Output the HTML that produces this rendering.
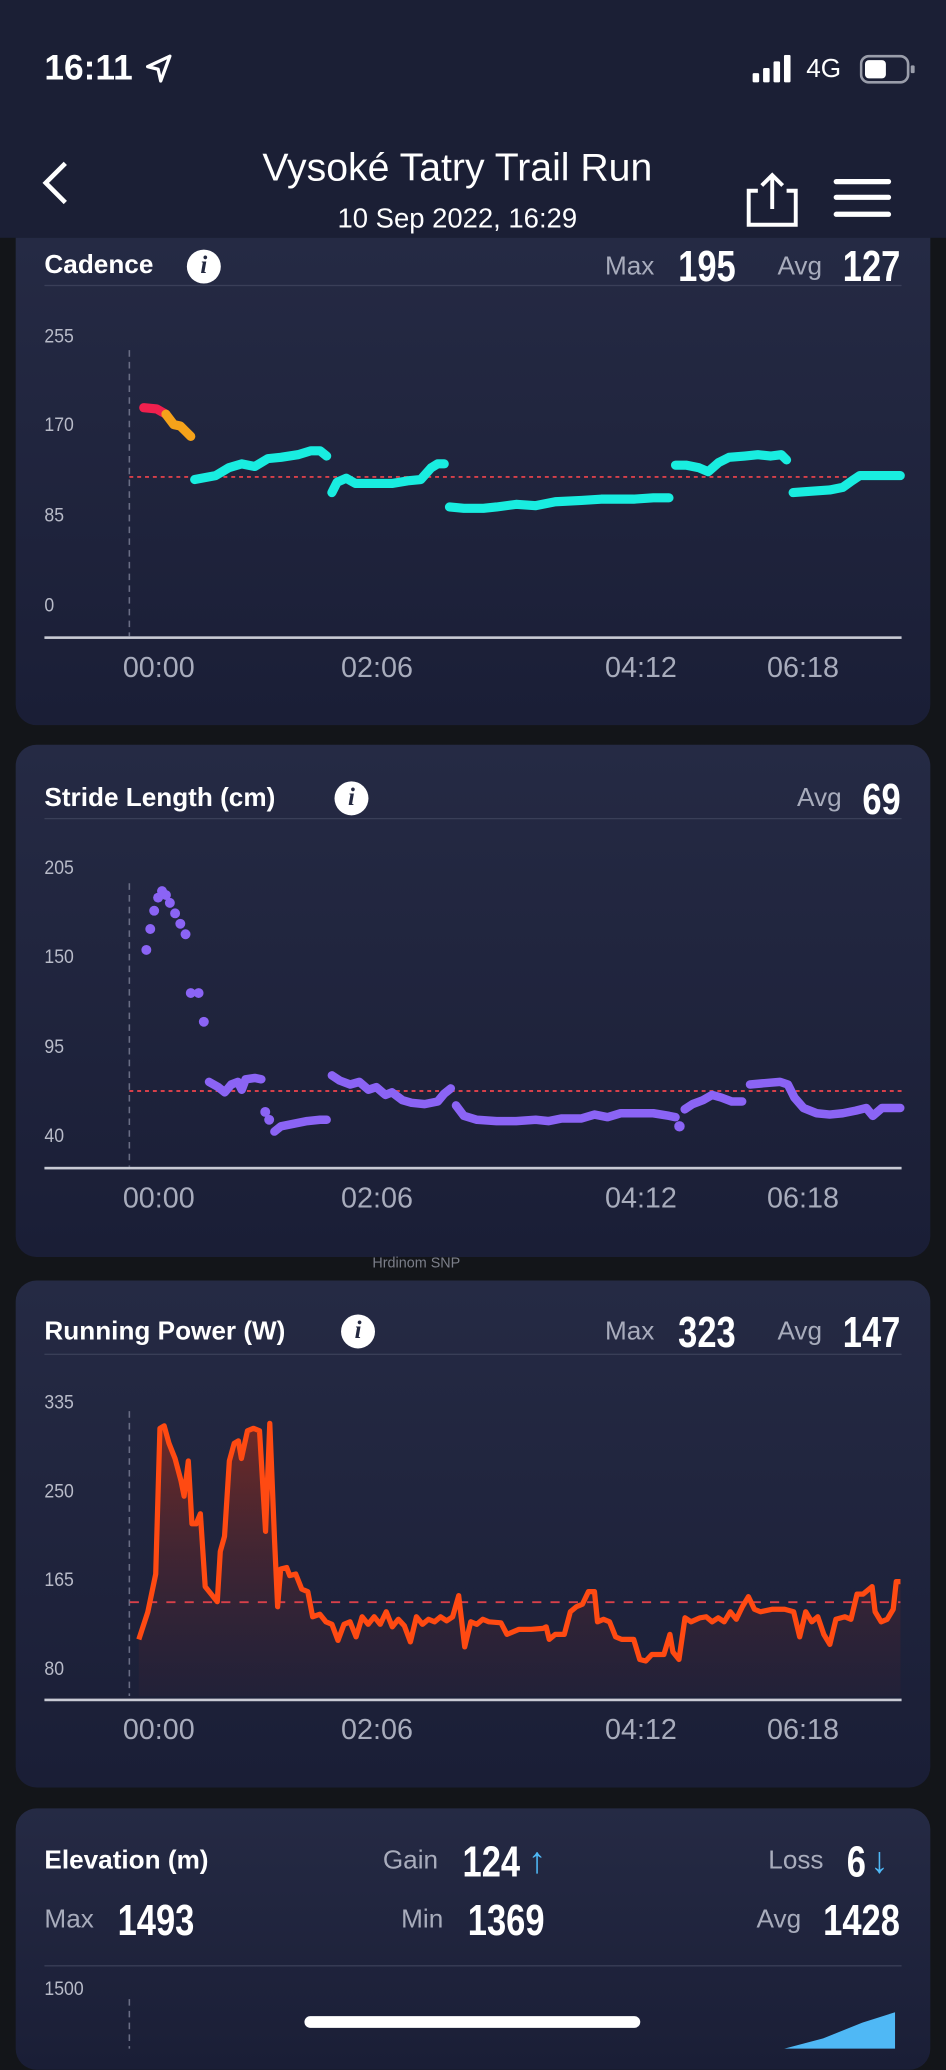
<!DOCTYPE html>
<html><head><meta charset="utf-8"><style>
html,body{margin:0;padding:0;width:946px;height:2048px;overflow:hidden;background:#131519;}
#w{position:absolute;left:0;top:0;width:724px;height:1568px;transform:scale(1.30663);transform-origin:0 0;font-family:"Liberation Sans",sans-serif;color:#fff;}
.a{position:absolute;white-space:nowrap;}
.card{position:absolute;left:12px;width:700px;border-radius:16px;background:linear-gradient(#252a44,#1a1e36);}
.t{font-size:20px;font-weight:bold;}
.lab{font-size:20px;color:#a8acbc;}
.num{font-family:"Liberation Sans",sans-serif;font-weight:bold;font-size:33px;transform:scaleX(0.8);transform-origin:0 0;}
.yl{font-family:"Liberation Sans",sans-serif;font-size:15px;color:#b8bbc8;transform:scaleX(0.9);transform-origin:0 0;}
.xl{font-size:22px;color:#a8acbc;}
.info{position:absolute;width:26px;height:26px;border-radius:50%;background:#fff;color:#232840;font:italic bold 19px "Liberation Serif",serif;text-align:center;line-height:26px;}
.sep{position:absolute;left:22px;width:656px;height:1px;background:#3a3f58;}
.ax{position:absolute;left:22px;width:656px;height:2px;background:#c8cad4;}
</style></head><body><div id="w">
<div class="a" style="left:0;top:0;width:724px;height:182px;background:#1b1f35;"></div>
<div class="a" style="left:34px;top:37px;font-size:27px;font-weight:bold;">16:11</div>
<svg class="a" style="left:110px;top:40px" width="24" height="26"><path d="M20 3 L3 11 L11 13 L13 22 Z" fill="none" stroke="#fff" stroke-width="2.5" stroke-linejoin="round"/></svg>
<svg class="a" style="left:574px;top:42px" width="36" height="22"><rect x="2" y="14" width="5" height="7" rx="1" fill="#fff"/><rect x="10" y="10" width="5" height="11" rx="1" fill="#fff"/><rect x="18" y="5" width="5" height="16" rx="1" fill="#fff"/><rect x="26" y="0" width="5" height="21" rx="1" fill="#fff"/></svg>
<div class="a" style="left:617px;top:42px;font-size:20px;">4G</div>
<svg class="a" style="left:658px;top:40px" width="44" height="26"><rect x="1" y="3" width="36" height="20" rx="6" fill="none" stroke="#9a9daa" stroke-width="2"/><rect x="4" y="6" width="16" height="14" rx="3" fill="#fff"/><rect x="39" y="10" width="3" height="6" rx="1" fill="#9a9daa"/></svg>
<svg class="a" style="left:28px;top:122px" width="28" height="36"><path d="M22 3 L7 18 L22 33" fill="none" stroke="#fff" stroke-width="3.5"/></svg>
<div class="a" style="left:150px;width:400px;text-align:center;top:112px;font-size:30px;">Vysoké Tatry Trail Run</div>
<div class="a" style="left:150px;width:400px;text-align:center;top:156px;font-size:21px;">10 Sep 2022, 16:29</div>
<svg class="a" style="left:568px;top:130px" width="46" height="46"><path d="M12 16 H5 V42 H41 V16 H34" fill="none" stroke="#fff" stroke-width="3"/><path d="M23 30 V5 M15 12 L23 4 L31 12" fill="none" stroke="#fff" stroke-width="3"/></svg>
<svg class="a" style="left:636px;top:134px" width="48" height="36"><rect x="2" y="3" width="44" height="4" rx="2" fill="#fff"/><rect x="2" y="15" width="44" height="4" rx="2" fill="#fff"/><rect x="2" y="28" width="44" height="4" rx="2" fill="#fff"/></svg>

<!-- card 1 -->
<div class="card" style="top:182px;height:373px;border-radius:0 0 16px 16px;"></div>
<div class="a t" style="left:34px;top:192px;">Cadence</div>
<div class="info" style="left:143px;top:191px;">i</div>
<div class="a lab" style="left:463px;top:193px;">Max</div>
<div class="a num" style="left:519px;top:185px;">195</div>
<div class="a lab" style="left:595px;top:193px;">Avg</div>
<div class="a num" style="left:645px;top:185px;">127</div>
<div class="sep" style="left:34px;top:218px;"></div>
<div class="a yl" style="left:34px;top:249px;">255</div>
<div class="a yl" style="left:34px;top:317px;">170</div>
<div class="a yl" style="left:34px;top:386px;">85</div>
<div class="a yl" style="left:34px;top:455px;">0</div>
<div class="ax" style="left:34px;top:487px;"></div>
<div class="a xl" style="left:94px;top:498px;">00:00</div>
<div class="a xl" style="left:261px;top:498px;">02:06</div>
<div class="a xl" style="left:463px;top:498px;">04:12</div>
<div class="a xl" style="left:587px;top:498px;">06:18</div>
<svg class="a" style="left:0;top:0" width="724" height="560">
<line x1="99" y1="268" x2="99" y2="487" stroke="#6a6e85" stroke-dasharray="5 4" stroke-width="1.2"/>
<line x1="99" y1="365" x2="690" y2="365" stroke="#d8404a" stroke-dasharray="3 3" stroke-width="1.5"/>
<g fill="none" stroke-width="7" stroke-linecap="round" stroke-linejoin="round">
<polyline points="110,312 120,313 127,317" stroke="#f0204e"/>
<polyline points="127,317 133,325 138,326 142,330 146,334" stroke="#f5a21a"/>
<g stroke="#19ede0">
<polyline points="149,367 165,364 175,358 185,355 195,357 205,351 215,350 228,348 238,345 245,345 250,349"/>
<polyline points="254,377 258,369 265,366 272,370 285,370 300,370 312,368 322,367 330,358 335,355 340,355"/>
<polyline points="344,388 355,389 370,389 380,388 395,386 410,387 425,384 445,383 460,382 470,382 485,382 500,381 512,381"/>
<polyline points="517,356 525,356 535,358 542,361 550,354 558,350 570,349 580,348 590,349 598,348 602,352"/>
<polyline points="607,377 620,376 635,375 645,373 652,368 658,364 675,364 689,364"/>
</g></g>
</svg>

<!-- card 2 -->
<div class="card" style="top:570px;height:392px;"></div>
<div class="a t" style="left:34px;top:600px;">Stride Length (cm)</div>
<div class="info" style="left:256px;top:598px;">i</div>
<div class="a lab" style="left:610px;top:600px;">Avg</div>
<div class="a num" style="left:660px;top:593px;">69</div>
<div class="sep" style="left:34px;top:626px;"></div>
<div class="a yl" style="left:34px;top:656px;">205</div>
<div class="a yl" style="left:34px;top:724px;">150</div>
<div class="a yl" style="left:34px;top:793px;">95</div>
<div class="a yl" style="left:34px;top:861px;">40</div>
<div class="ax" style="left:34px;top:893px;"></div>
<div class="a xl" style="left:94px;top:904px;">00:00</div>
<div class="a xl" style="left:261px;top:904px;">02:06</div>
<div class="a xl" style="left:463px;top:904px;">04:12</div>
<div class="a xl" style="left:587px;top:904px;">06:18</div>
<svg class="a" style="left:0;top:0" width="724" height="970">
<line x1="99" y1="676" x2="99" y2="893" stroke="#6a6e85" stroke-dasharray="5 4" stroke-width="1.2"/>
<line x1="99" y1="835" x2="690" y2="835" stroke="#d8404a" stroke-dasharray="3 3" stroke-width="1.5"/>
<g fill="#8b64f5"><circle cx="112" cy="727" r="3.8"/><circle cx="115" cy="711" r="3.8"/><circle cx="118" cy="697" r="3.8"/><circle cx="121" cy="687" r="3.8"/><circle cx="124" cy="682" r="3.8"/><circle cx="127" cy="685" r="3.8"/><circle cx="130" cy="691" r="3.8"/><circle cx="134" cy="699" r="3.8"/><circle cx="138" cy="707" r="3.8"/><circle cx="142" cy="715" r="3.8"/><circle cx="146" cy="760" r="3.8"/><circle cx="152" cy="760" r="3.8"/><circle cx="156" cy="782" r="3.8"/><circle cx="203" cy="851" r="3.8"/><circle cx="206" cy="857" r="3.8"/><circle cx="520" cy="862" r="4"/></g>
<g fill="none" stroke="#8b64f5" stroke-width="6.5" stroke-linecap="round" stroke-linejoin="round">
<polyline points="160,828 167,832 172,836 177,830 182,828 185,834 188,826 195,825 200,826"/>
<polyline points="210,866 215,862 225,860 235,858 245,857 250,857"/>
<polyline points="254,823 260,827 268,830 275,828 282,834 288,832 295,838 300,836 308,842 315,844 325,845 335,843 340,837 345,833"/>
<polyline points="349,846 355,854 365,857 380,858 395,858 410,857 420,858 430,856 445,856 455,853 465,855 475,852 490,852 500,852 512,854 517,855"/>
<polyline points="524,849 530,845 538,842 545,838 552,840 560,843 568,843"/>
<polyline points="574,830 585,829 597,828 603,830 608,840 615,848 625,852 635,853 645,852 655,850 663,848 668,854 675,848 682,848 689,848"/>
</g>
</svg>
<div class="a" style="left:285px;top:961px;font-size:11px;color:#7c7f8a;">Hrdinom SNP</div>

<!-- card 3 -->
<div class="card" style="top:980px;height:388px;"></div>
<div class="a t" style="left:34px;top:1008px;">Running Power (W)</div>
<div class="info" style="left:261px;top:1006px;">i</div>
<div class="a lab" style="left:463px;top:1008px;">Max</div>
<div class="a num" style="left:519px;top:1001px;">323</div>
<div class="a lab" style="left:595px;top:1008px;">Avg</div>
<div class="a num" style="left:645px;top:1001px;">147</div>
<div class="sep" style="left:34px;top:1036px;"></div>
<div class="a yl" style="left:34px;top:1065px;">335</div>
<div class="a yl" style="left:34px;top:1133px;">250</div>
<div class="a yl" style="left:34px;top:1201px;">165</div>
<div class="a yl" style="left:34px;top:1269px;">80</div>
<div class="ax" style="left:34px;top:1300px;"></div>
<div class="a xl" style="left:94px;top:1311px;">00:00</div>
<div class="a xl" style="left:261px;top:1311px;">02:06</div>
<div class="a xl" style="left:463px;top:1311px;">04:12</div>
<div class="a xl" style="left:587px;top:1311px;">06:18</div>
<svg class="a" style="left:0;top:0" width="724" height="1380">
<defs><linearGradient id="pg" x1="0" y1="0" x2="0" y2="1"><stop offset="0" stop-color="#7a2a22" stop-opacity="0.9"/><stop offset="1" stop-color="#3a2234" stop-opacity="0.2"/></linearGradient></defs>
<line x1="99" y1="1080" x2="99" y2="1298" stroke="#6a6e85" stroke-dasharray="5 4" stroke-width="1.2"/>
<g transform="translate(0,964.3) scale(0.4619,0.3846)">
<polygon fill="url(#pg)" points="230,868 230,755 245,700 258,625 265,335 272,330 280,365 290,395 300,440 305,470 312,400 318,525 325,525 332,505 340,650 350,665 360,680 365,580 372,550 380,400 388,365 395,360 400,395 410,340 420,335 430,340 440,540 447,325 455,560 460,690 465,615 475,612 480,628 490,625 500,655 510,660 518,710 530,705 540,720 550,725 560,757 570,725 580,720 590,750 600,710 610,725 620,710 630,725 640,700 650,730 660,715 670,728 680,760 690,710 700,725 710,715 720,720 730,710 740,718 750,710 760,668 770,770 780,720 790,725 800,715 810,720 830,722 840,745 860,735 880,735 900,733 905,730 910,755 920,745 935,745 945,700 955,690 965,685 975,660 985,660 990,720 1000,715 1010,720 1020,750 1030,755 1050,755 1060,795 1070,798 1080,785 1100,785 1110,745 1115,780 1125,795 1135,712 1145,720 1160,712 1170,710 1180,720 1190,712 1200,720 1210,700 1220,715 1230,690 1240,670 1250,695 1260,700 1280,695 1300,695 1315,700 1325,750 1335,700 1345,720 1355,710 1365,745 1375,765 1385,715 1400,710 1410,715 1420,665 1430,665 1445,650 1450,700 1460,720 1470,715 1480,695 1485,640 1492,640 1492,868"/>
<line x1="215" y1="681" x2="1492" y2="681" stroke="#d8404a" stroke-dasharray="7 7" stroke-width="1.5" vector-effect="non-scaling-stroke"/>
<polyline fill="none" stroke="#ff4a12" stroke-width="4" stroke-linejoin="round" vector-effect="non-scaling-stroke" points="230,755 245,700 258,625 265,335 272,330 280,365 290,395 300,440 305,470 312,400 318,525 325,525 332,505 340,650 350,665 360,680 365,580 372,550 380,400 388,365 395,360 400,395 410,340 420,335 430,340 440,540 447,325 455,560 460,690 465,615 475,612 480,628 490,625 500,655 510,660 518,710 530,705 540,720 550,725 560,757 570,725 580,720 590,750 600,710 610,725 620,710 630,725 640,700 650,730 660,715 670,728 680,760 690,710 700,725 710,715 720,720 730,710 740,718 750,710 760,668 770,770 780,720 790,725 800,715 810,720 830,722 840,745 860,735 880,735 900,733 905,730 910,755 920,745 935,745 945,700 955,690 965,685 975,660 985,660 990,720 1000,715 1010,720 1020,750 1030,755 1050,755 1060,795 1070,798 1080,785 1100,785 1110,745 1115,780 1125,795 1135,712 1145,720 1160,712 1170,710 1180,720 1190,712 1200,720 1210,700 1220,715 1230,690 1240,670 1250,695 1260,700 1280,695 1300,695 1315,700 1325,750 1335,700 1345,720 1355,710 1365,745 1375,765 1385,715 1400,710 1410,715 1420,665 1430,665 1445,650 1450,700 1460,720 1470,715 1480,695 1485,640 1492,640"/>
</g>
</svg>

<!-- card 4 -->
<div class="card" style="top:1384px;height:200px;"></div>
<div class="a t" style="left:34px;top:1413px;">Elevation (m)</div>
<div class="a lab" style="left:293px;top:1413px;">Gain</div>
<div class="a num" style="left:354px;top:1406px;">124</div>
<div class="a" style="left:404px;top:1408px;font-size:28px;color:#4fb8f5;">↑</div>
<div class="a lab" style="left:588px;top:1413px;">Loss</div>
<div class="a num" style="left:648px;top:1406px;">6</div>
<div class="a" style="left:666px;top:1408px;font-size:28px;color:#4fb8f5;">↓</div>
<div class="a lab" style="left:34px;top:1458px;">Max</div>
<div class="a num" style="left:90px;top:1451px;">1493</div>
<div class="a lab" style="left:307px;top:1458px;">Min</div>
<div class="a num" style="left:358px;top:1451px;">1369</div>
<div class="a lab" style="left:579px;top:1458px;">Avg</div>
<div class="a num" style="left:630px;top:1451px;">1428</div>
<div class="sep" style="left:34px;top:1504px;"></div>
<div class="a yl" style="left:34px;top:1514px;">1500</div>
<svg class="a" style="left:0;top:1500px" width="724" height="68">
<line x1="99" y1="30" x2="99" y2="68" stroke="#6a6e85" stroke-dasharray="5 4" stroke-width="1.2"/>
<polygon points="600,68 630,60 660,48 685,40 685,68" fill="#4fb8f5"/>
</svg>
<div class="a" style="left:233px;top:1543px;width:257px;height:9px;border-radius:5px;background:#fff;"></div>
</div></body></html>
